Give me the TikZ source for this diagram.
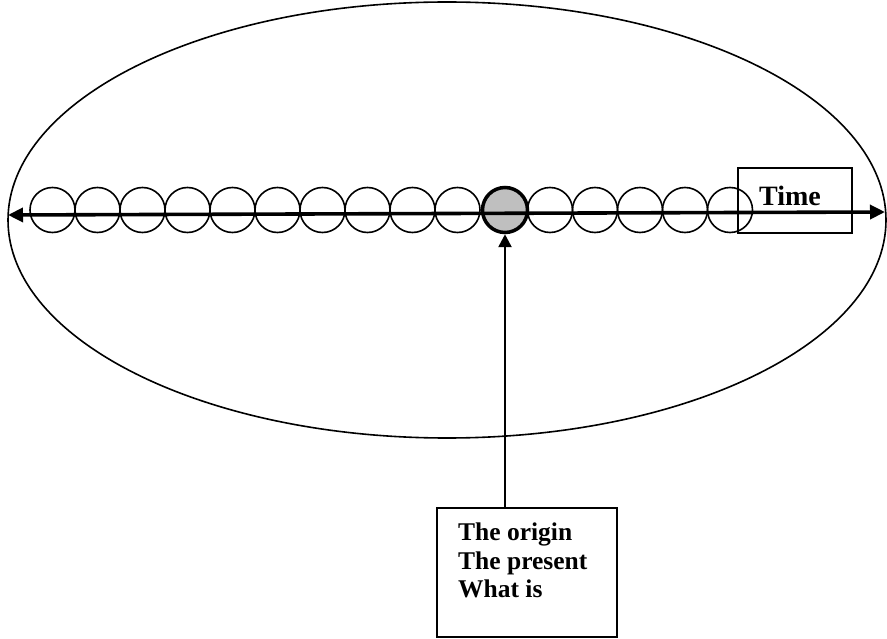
\documentclass[tikz,border=0pt]{standalone}
\usepackage{fontspec}
\setmainfont{Liberation Serif}
\usetikzlibrary{arrows.meta,shapes.geometric}
\tikzset{
  bead/.style={draw, line width=1.6pt, circle, minimum size=45pt, inner sep=0pt},
  nowbead/.style={bead, fill=gray!50, line width=3.5pt},
  labelbox/.style={draw, line width=1.6pt, inner sep=0pt},
  axisline/.style={line width=3.6pt, {Triangle[length=15pt,width=14pt]}-{Triangle[length=15pt,width=14pt]}},
  uparrow/.style={line width=2.6pt, -{Triangle[length=13pt,width=13pt]}},
  txt/.style={font=\fontsize{25.5}{28.5}\selectfont\bfseries, align=left, inner sep=0pt, anchor=west}
}
\begin{document}
\begin{tikzpicture}[x=1pt,y=-1pt]
\useasboundingbox (0,0) rectangle (887,639);
\node[draw, line width=1.6pt, ellipse, minimum width=878pt, minimum height=436pt, inner sep=0pt] (world) at (447,220) {};
\foreach \i in {0,...,9} {
  \node[bead] (b\i) at ({52.5+45*\i},210) {};
}
\node[nowbead] (now) at (505,210) {};
\foreach \i in {1,...,5} {
  \node[bead] (a\i) at ({505+45*\i},210) {};
}
\node[labelbox, minimum width=114pt, minimum height=65pt] (timebox) at (795,200.5) {};
\node[txt, font=\fontsize{28}{30}\selectfont\bfseries] (timetxt) at (759,196) {Time};
\coordinate (axl) at (8,215);
\coordinate (axr) at (885,212);
\draw[axisline] (axl) -- (axr);
\node[labelbox, minimum width=180pt, minimum height=129pt] (origin) at (527,572.5) {};
\node[txt, anchor=north west] (origintxt) at (458,523) {The origin\\The present\\What is};
\draw[uparrow] (origin.north -| now.south) -- (now.south);
\end{tikzpicture}
\end{document}
